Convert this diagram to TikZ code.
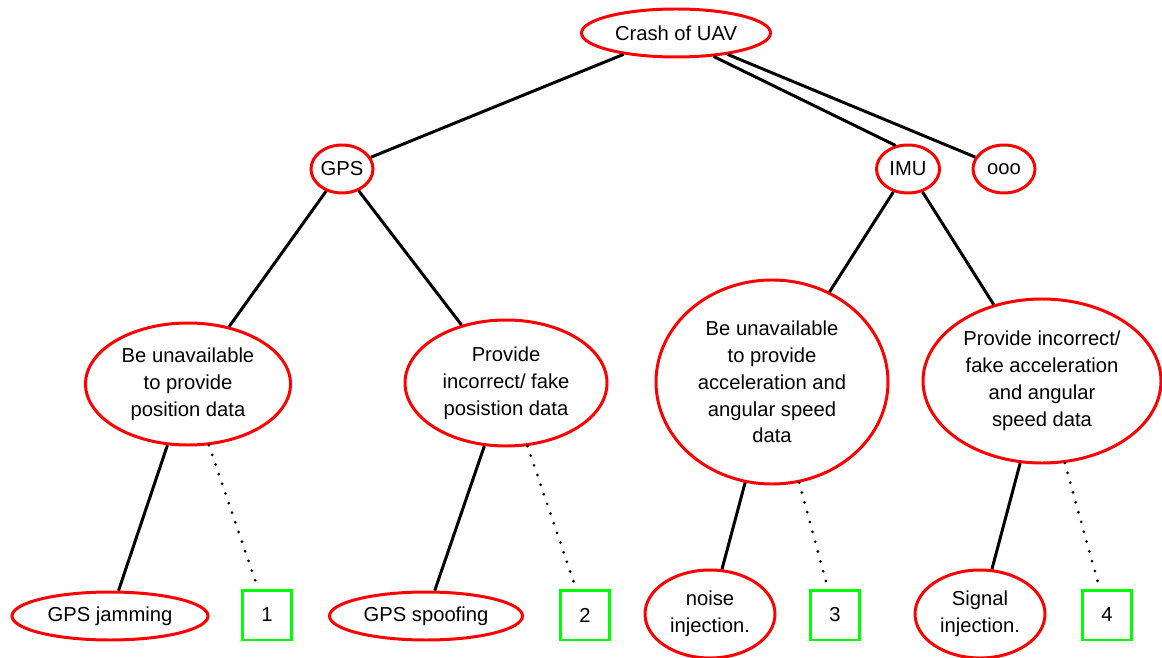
\documentclass[tikz,border=0pt]{standalone}
\usepackage{fontspec}
\setmainfont{Liberation Sans}
\usetikzlibrary{shapes.geometric}

\begin{document}
\begin{tikzpicture}[x=0.02cm, y=-0.02cm,
    every node/.style={font=\fontsize{11.5}{15.3}\selectfont, align=center},
    oval/.style 2 args={ellipse, draw=red, line width=1.7pt, inner sep=0pt,
                        minimum width=#1*0.02cm, minimum height=#2*0.02cm},
    leaf/.style={rectangle, draw=green, line width=1.7pt, inner sep=0pt,
                 minimum width=0.98cm, minimum height=1cm},
    edge/.style={black, line width=1.7pt},
    dotedge/.style={black, line width=1.7pt, line cap=round,
                    dash pattern=on 0pt off 5.8pt}]
    \useasboundingbox (0,0) rectangle (1162,658);

    % top event and sub systems
    \node[oval={189}{48}] (crash) at (676,33) {Crash of UAV};
    \node[oval={62}{48}] (gps) at (342,169) {GPS};
    \node[oval={63}{48}] (imu) at (908,169) {IMU};
    \node[oval={62}{48}] (ooo) at (1004,169) {ooo};

    % failure modes
    \node[oval={205}{122}] (gpsunav) at (188,384)
        {Be unavailable\\to provide\\position data};
    \node[oval={202}{126}] (gpsfake) at (506,383)
        {Provide\\incorrect/ fake\\posistion data};
    \node[oval={232}{204}] (imuunav) at (772,382)
        {Be unavailable\\to provide\\acceleration and\\angular speed\\data};
    \node[oval={238}{164}] (imufake) at (1042,381)
        {Provide incorrect/\\fake acceleration\\and angular\\speed data};

    % attacks
    \node[oval={196}{48}] (jam) at (110,616) {GPS jamming};
    \node[oval={193}{48}] (spoof) at (426,616) {GPS spoofing};
    \node[oval={130}{88}] (noise) at (710,614) {noise\\injection.};
    \node[oval={130}{88}] (signal) at (980,614) {Signal\\injection.};
    \node[leaf] (l1) at (267,615) {1};
    \node[leaf] (l2) at (585,615) {2};
    \node[leaf] (l3) at (835,615) {3};
    \node[leaf] (l4) at (1107,615) {4};

    \draw[edge] (crash) -- (gps);
    \draw[edge] (crash.-32) -- (imu.118);
    \draw[edge] (crash) -- (ooo);
    \draw[edge] (gps) -- (gpsunav);
    \draw[edge] (gps) -- (gpsfake);
    \draw[edge] (imu) -- (imuunav);
    \draw[edge] (imu) -- (imufake);
    \draw[edge] (gpsunav) -- (jam);
    \draw[dotedge] (gpsunav) -- (l1);
    \draw[edge] (gpsfake) -- (spoof);
    \draw[dotedge] (gpsfake) -- (l2);
    \draw[edge] (imuunav) -- (noise);
    \draw[dotedge] (imuunav) -- (l3);
    \draw[edge] (imufake) -- (signal);
    \draw[dotedge] (imufake) -- (l4);
\end{tikzpicture}
\end{document}
